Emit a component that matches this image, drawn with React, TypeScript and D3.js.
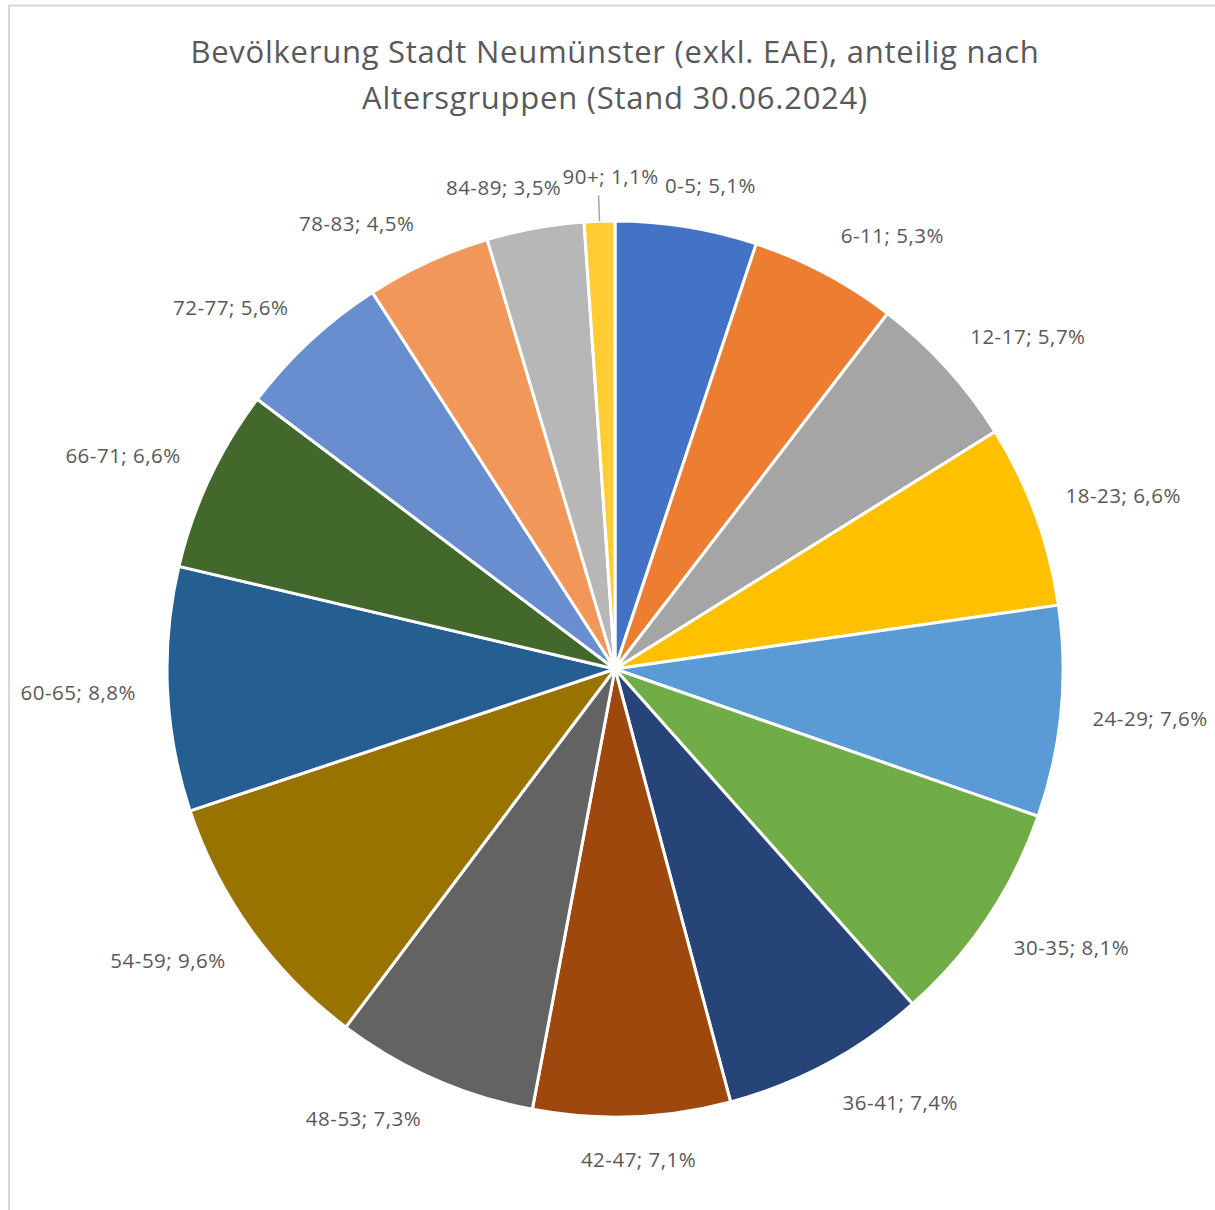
import React from 'react';
import * as d3 from 'd3';

const categories = ['0-5', '6-11', '12-17', '18-23', '24-29', '30-35', '36-41', '42-47', '48-53', '54-59', '60-65', '66-71', '72-77', '78-83', '84-89', '90+'];
const shares = [5.1, 5.3, 5.7, 6.6, 7.6, 8.1, 7.4, 7.1, 7.3, 9.6, 8.8, 6.6, 5.6, 4.5, 3.5, 1.1];
const colors = ['#4472C4', '#ED7D31', '#A5A5A5', '#FFC000', '#5B9BD5', '#70AD47', '#264478', '#9E480E', '#636363', '#997300', '#255E91', '#43682B', '#698ED0', '#F1975A', '#B7B7B7', '#FFCD33'];
const titleLines = ['Bevölkerung Stadt Neumünster (exkl. EAE), anteilig nach', 'Altersgruppen (Stand 30.06.2024)'];

const W = 1215;
const H = 1210;
const cx = 615;
const cy = 669;
const radius = 448;
const font = '"Open Sans", "Noto Sans", sans-serif';

// rough label box size for placement outside the pie
const labelW = (s: string) => s.length * 10.6;
const labelH = 22;

export default function App() {
    const data = categories.map((c, i) => ({ cat: c, value: shares[i], color: colors[i] }));
    const pie = d3.pie<typeof data[0]>().value(d => d.value).sort(null);
    const arcs = pie(data);
    const arc = d3.arc<d3.PieArcDatum<typeof data[0]>>().innerRadius(0).outerRadius(radius);

    const fmt = (v: number) => v.toFixed(1).replace('.', ',') + '%';
    // pushes the box toward its corner once the angle leaves the axis
    const push = (t: number) => Math.sign(t) * Math.min(1, Math.abs(t) * 2.5);

    return (
        <svg width={W} height={H} style={{ position: 'absolute', left: 0, top: 0, background: '#fff' }}>
            <rect x={9} y={5.5} width={W + 20} height={H + 20} fill="#fff" stroke="#d9d9d9" strokeWidth={2} />
            {titleLines.map((t, i) => (
                <text key={i} x={615} y={63 + i * 46} textAnchor="middle" fontFamily={font} fontSize={31} letterSpacing={0.75} fill="#595959">{t}</text>
            ))}
            <g transform={`translate(${cx},${cy})`}>
                {arcs.map((a, i) => (
                    <path key={i} d={arc(a) || ''} fill={a.data.color} stroke="#fff" strokeWidth={3} strokeLinejoin="round" />
                ))}
                {arcs.map((a, i) => {
                    const mid = (a.startAngle + a.endAngle) / 2;
                    const s = Math.sin(mid);
                    const c = -Math.cos(mid);
                    const label = `${a.data.cat}; ${fmt(a.data.value)}`;
                    const w = labelW(label);
                    const small = a.data.value < 2;
                    let lx: number;
                    let ly: number;
                    const lineEnd = radius + 26;
                    if (small) {
                        lx = lineEnd * s + 12;
                        ly = lineEnd * c - 18;
                    } else {
                        const R = radius + 31;
                        lx = R * s + push(s) * w / 2;
                        ly = R * c + push(c) * labelH / 2 + 1;
                    }
                    return (
                        <g key={'l' + i}>
                            {small && (
                                <line x1={radius * s} y1={radius * c} x2={lineEnd * s} y2={lineEnd * c} stroke="#a6a6a6" strokeWidth={1.5} />
                            )}
                            <text x={lx} y={ly} dy="0.35em" textAnchor="middle" fontFamily={font} fontSize={20.5} letterSpacing={0.5} fill="#595959">{label}</text>
                        </g>
                    );
                })}
            </g>
        </svg>
    );
}
